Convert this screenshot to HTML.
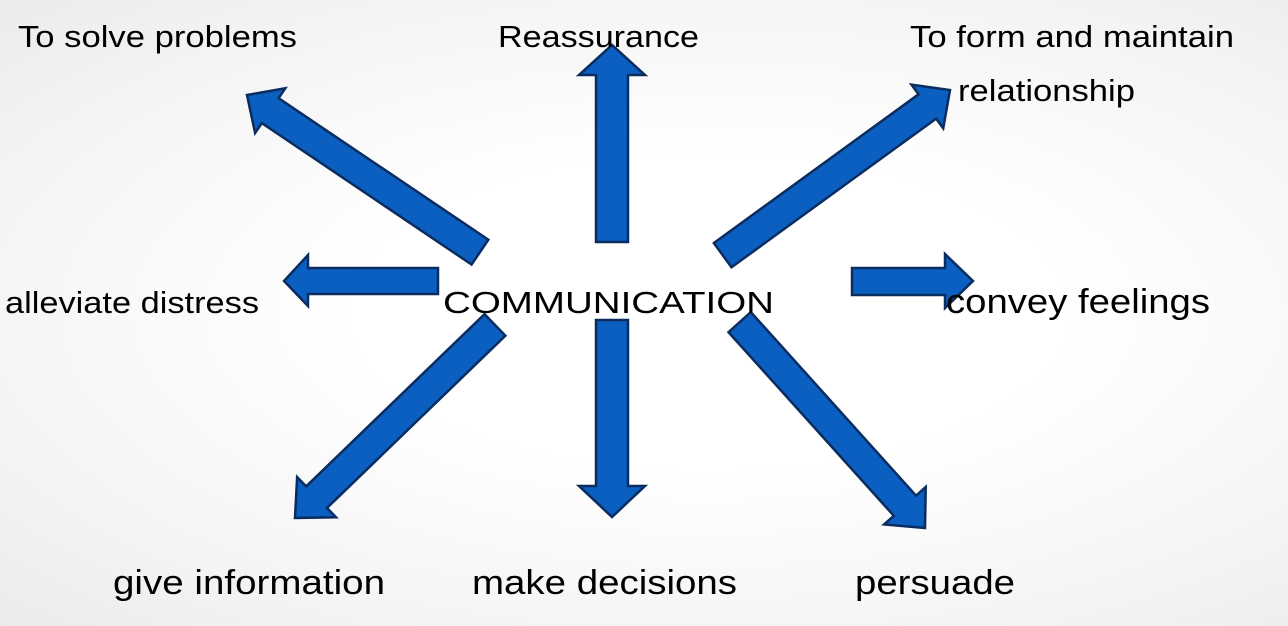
<!DOCTYPE html>
<html><head><meta charset="utf-8"><style>
html,body{margin:0;padding:0}
body{width:1288px;height:626px;overflow:hidden;background:radial-gradient(ellipse at 55% 50%,#ffffff 35%,#f4f4f4 75%,#ebebeb 100%)}
svg{display:block}
text{font-family:"Liberation Sans",Arial,sans-serif;fill:#000}
</style></head><body>
<svg width="1288" height="626" viewBox="0 0 1288 626">
<g fill="#0a5fc0" stroke="#0b2c5e" stroke-width="2.5" stroke-linejoin="miter">
<polygon points="596,242 596,75 579,75 612,45 645,75 628,75 628,242"/>
<polygon points="596,320 596,486 579,486 612,517 645,486 628,486 628,320"/>
<polygon points="438,268 308,268 308,255 284,281 308,306 308,294 438,294"/>
<polygon points="852,268 945,268 945,254 973,281 945,308 945,295 852,295"/>
<g transform="translate(247,95) rotate(34)">
<polygon points="0,0 28,-27 28,-15 281,-15 281,15 28,15 28,27"/>
</g>
<g transform="translate(950,90) rotate(144)">
<polygon points="0,0 28,-27 28,-15 281,-15 281,15 28,15 28,27"/>
</g>
<g transform="translate(295,518) rotate(-44)">
<polygon points="0,0 30,-28 30,-15 278,-15 278,15 30,15 30,28"/>
</g>
<g transform="translate(925,528) rotate(-132)">
<polygon points="0,0 30,-28 30,-15 277,-15 277,15 30,15 30,28"/>
</g>
</g>
<g font-size="31" lengthAdjust="spacingAndGlyphs">
<text x="18" y="47" textLength="279" lengthAdjust="spacingAndGlyphs">To solve problems</text>
<text x="498" y="47" textLength="201" lengthAdjust="spacingAndGlyphs">Reassurance</text>
<text x="910" y="47" textLength="324" lengthAdjust="spacingAndGlyphs">To form and maintain</text>
<text x="958" y="101" textLength="177" lengthAdjust="spacingAndGlyphs">relationship</text>
<text x="5" y="313" textLength="254" lengthAdjust="spacingAndGlyphs">alleviate distress</text>
<text x="443" y="313" textLength="331" lengthAdjust="spacingAndGlyphs">COMMUNICATION</text>
<text x="946" y="313" textLength="264" font-size="34" lengthAdjust="spacingAndGlyphs">convey feelings</text>
<text x="113" y="594" textLength="272" font-size="34" lengthAdjust="spacingAndGlyphs">give information</text>
<text x="472" y="594" textLength="265" font-size="34" lengthAdjust="spacingAndGlyphs">make decisions</text>
<text x="855" y="594" textLength="160" font-size="34" lengthAdjust="spacingAndGlyphs">persuade</text>
</g>
</svg>
</body></html>
